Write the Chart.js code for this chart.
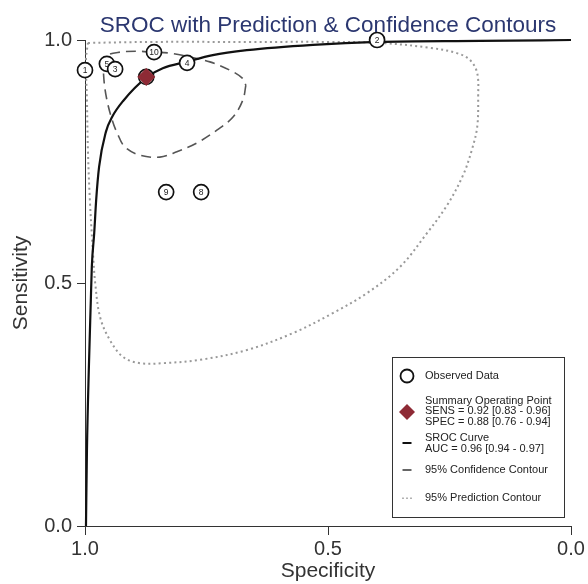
<!DOCTYPE html>
<html>
<head>
<meta charset="utf-8">
<script src="https://cdn.jsdelivr.net/npm/chart.js@4.4.1/dist/chart.umd.min.js"></script>
<style>
html,body{margin:0;padding:0;background:#fff;}
#wrap{width:588px;height:584px;}
</style>
</head>
<body>
<div id="wrap"><canvas id="c" width="588" height="584"></canvas></div>
<script>
// ---------- data ----------
const chartTitle = 'SROC with Prediction & Confidence Contours';
const xAxisTitle = 'Specificity';
const yAxisTitle = 'Sensitivity';
const tickValues = [0.0, 0.5, 1.0];

const studyIds  = ['1', '5', '3', '10', '4', '2', '9', '8', '7'];
const studySpec = [1.000, 0.955, 0.938, 0.858, 0.790, 0.399, 0.833, 0.761, 0.874];
const studySens = [0.938, 0.951, 0.940, 0.975, 0.953, 1.000, 0.687, 0.687, 0.924];

const summarySpec = [0.874];
const summarySens = [0.924];

const srocSpec = [0.998, 0.996, 0.992, 0.988, 0.986, 0.981, 0.977, 0.971, 0.957, 0.944, 0.922, 0.872, 0.840, 0.792, 0.737, 0.667, 0.531, 0.399, 0.187, 0.000];
const srocSens = [0.000, 0.156, 0.327, 0.465, 0.533, 0.603, 0.671, 0.739, 0.811, 0.842, 0.874, 0.924, 0.942, 0.955, 0.969, 0.979, 0.990, 0.996, 0.998, 1.000];

const confSpec = [0.669, 0.675, 0.695, 0.728, 0.770, 0.811, 0.846, 0.887, 0.918, 0.934, 0.944, 0.955, 0.961, 0.961, 0.953, 0.928, 0.893, 0.860, 0.825, 0.784, 0.743, 0.702, 0.677, 0.669];
const confSens = [0.907, 0.877, 0.842, 0.815, 0.788, 0.770, 0.759, 0.763, 0.780, 0.809, 0.835, 0.877, 0.918, 0.953, 0.969, 0.975, 0.977, 0.975, 0.973, 0.965, 0.955, 0.938, 0.922, 0.907];

const predSpec = [0.994, 0.866, 0.660, 0.496, 0.393, 0.290, 0.235, 0.208, 0.193, 0.191, 0.193, 0.204, 0.222, 0.255, 0.296, 0.352, 0.420, 0.490, 0.572, 0.667, 0.763, 0.840, 0.887, 0.922, 0.949, 0.969, 0.979, 0.984, 0.990, 0.994, 0.996, 0.998, 0.994];
const predSens = [0.994, 0.996, 0.996, 0.996, 0.994, 0.984, 0.973, 0.959, 0.932, 0.883, 0.821, 0.774, 0.722, 0.660, 0.603, 0.533, 0.479, 0.438, 0.397, 0.362, 0.342, 0.335, 0.335, 0.348, 0.383, 0.430, 0.500, 0.568, 0.671, 0.774, 0.877, 0.959, 0.994];

const legendObserved = 'Observed Data';
const legendSummary = ['Summary Operating Point', 'SENS = 0.92 [0.83 - 0.96]', 'SPEC = 0.88 [0.76 - 0.94]'];
const legendSroc = ['SROC Curve', 'AUC = 0.96 [0.94 - 0.97]'];
const legendConf = '95% Confidence Contour';
const legendPred = '95% Prediction Contour';

// ---------- helpers ----------
const zip = (xs, ys) => xs.map((x, i) => ({x: x, y: ys[i]}));
const FONT = '"Liberation Sans", Arial, sans-serif';

const titlePlugin = {
  id: 'mainTitle',
  afterDraw(chart) {
    const ctx = chart.ctx, ca = chart.chartArea;
    ctx.save();
    ctx.font = '22.5px ' + FONT;
    ctx.fillStyle = '#2b3770';
    ctx.textAlign = 'center';
    ctx.textBaseline = 'alphabetic';
    ctx.fillText(chartTitle, (ca.left + ca.right) / 2, 32);
    ctx.restore();
  }
};

const labelPlugin = {
  id: 'studyLabels',
  afterDatasetDraw(chart, args) {
    if (args.index !== 1) return;
    const ctx = chart.ctx;
    const meta = chart.getDatasetMeta(1);
    ctx.save();
    ctx.font = '8.5px ' + FONT;
    ctx.fillStyle = '#222';
    ctx.textAlign = 'center';
    ctx.textBaseline = 'middle';
    meta.data.forEach((pt, i) => {
      ctx.fillText(studyIds[i], pt.x, pt.y + 0.5);
    });
    ctx.restore();
  }
};

const legendPlugin = {
  id: 'customLegend',
  afterDraw(chart) {
    const ctx = chart.ctx;
    ctx.save();
    ctx.fillStyle = '#fff';
    ctx.fillRect(392, 357, 172, 160);
    ctx.strokeStyle = '#333';
    ctx.lineWidth = 1;
    ctx.strokeRect(392.5, 357.5, 172, 160);

    const ix = 407, tx = 425;
    ctx.beginPath();
    ctx.arc(ix, 376, 6.5, 0, Math.PI * 2);
    ctx.lineWidth = 1.8;
    ctx.strokeStyle = '#111';
    ctx.stroke();
    ctx.beginPath();
    ctx.moveTo(ix, 404); ctx.lineTo(ix + 8, 412); ctx.lineTo(ix, 420); ctx.lineTo(ix - 8, 412); ctx.closePath();
    ctx.fillStyle = '#8e2a35';
    ctx.fill();
    ctx.beginPath();
    ctx.moveTo(ix - 4.5, 443); ctx.lineTo(ix + 4.5, 443);
    ctx.lineWidth = 2; ctx.strokeStyle = '#111'; ctx.stroke();
    ctx.beginPath();
    ctx.moveTo(ix - 4.5, 470); ctx.lineTo(ix + 4.5, 470);
    ctx.lineWidth = 1.5; ctx.strokeStyle = '#333'; ctx.stroke();
    ctx.fillStyle = '#999';
    [ix - 4, ix, ix + 4].forEach(x => ctx.fillRect(x - 0.75, 497.5, 1.5, 1.5));

    ctx.font = '11px ' + FONT;
    ctx.fillStyle = '#222';
    ctx.textAlign = 'left';
    ctx.textBaseline = 'middle';
    ctx.fillText(legendObserved, tx, 376);
    legendSummary.forEach((t, i) => ctx.fillText(t, tx, 400.5 + i * 10.7));
    legendSroc.forEach((t, i) => ctx.fillText(t, tx, 438 + i * 10.7));
    ctx.fillText(legendConf, tx, 470);
    ctx.fillText(legendPred, tx, 498);
    ctx.restore();
  }
};

const ctx = document.getElementById('c').getContext('2d');
new Chart(ctx, {
  type: 'scatter',
  data: {
    datasets: [
      {
        label: 'Summary Operating Point',
        data: zip(summarySpec, summarySens),
        pointStyle: 'rectRot',
        pointRadius: 8.5,
        backgroundColor: '#8e2a35',
        borderColor: '#8e2a35',
        borderWidth: 1,
        showLine: false,
        order: 0,
        clip: false
      },
      {
        label: 'Observed Data',
        data: zip(studySpec, studySens),
        pointStyle: 'circle',
        pointRadius: 7.5,
        backgroundColor: '#ffffff',
        borderColor: '#111',
        borderWidth: 1.7,
        showLine: false,
        order: 1,
        clip: false
      },
      {
        label: 'SROC Curve',
        data: zip(srocSpec, srocSens),
        showLine: true,
        pointRadius: 0,
        borderColor: '#111',
        borderWidth: 2.2,
        cubicInterpolationMode: 'monotone',
        fill: false,
        order: 2,
        clip: false
      },
      {
        label: '95% Confidence Contour',
        data: zip(confSpec, confSens),
        showLine: true,
        pointRadius: 0,
        borderColor: '#555',
        borderWidth: 1.6,
        borderDash: [10, 6],
        tension: 0.35,
        fill: false,
        order: 3,
        clip: false
      },
      {
        label: '95% Prediction Contour',
        data: zip(predSpec, predSens),
        showLine: true,
        pointRadius: 0,
        borderColor: '#999',
        borderWidth: 2,
        borderDash: [2, 3.2],
        tension: 0.35,
        fill: false,
        order: 4,
        clip: false
      }
    ]
  },
  options: {
    responsive: false,
    animation: false,
    devicePixelRatio: 1,
    elements: { line: { capBezierPoints: false } },
    layout: { padding: { top: 40, right: 17, left: 0, bottom: 0 } },
    plugins: {
      legend: { display: false },
      tooltip: { enabled: false },
      title: { display: false }
    },
    scales: {
      x: {
        type: 'linear',
        position: 'bottom',
        min: 0, max: 1,
        reverse: true,
        afterBuildTicks: s => { s.ticks = tickValues.map(v => ({ value: v })); },
        ticks: {
          callback: v => Number(v).toFixed(1),
          font: { size: 20, family: FONT },
          color: '#333',
          padding: 2,
          maxRotation: 0,
          autoSkip: false
        },
        grid: { drawOnChartArea: false, drawTicks: true, tickLength: 9, color: '#333', lineWidth: 1 },
        border: { display: true, color: '#333', width: 1 },
        title: { display: true, text: xAxisTitle, font: { size: 21, family: FONT }, color: '#333', padding: { top: 0, bottom: 0 } },
        afterFit: s => { s.height = 58; s.paddingLeft = 0; s.paddingRight = 0; }
      },
      y: {
        type: 'linear',
        position: 'left',
        min: 0, max: 1,
        afterBuildTicks: s => { s.ticks = tickValues.map(v => ({ value: v })); },
        ticks: {
          callback: v => Number(v).toFixed(1),
          font: { size: 20, family: FONT },
          color: '#333',
          padding: 5,
          autoSkip: false
        },
        grid: { drawOnChartArea: false, drawTicks: true, tickLength: 8, color: '#333', lineWidth: 1 },
        border: { display: true, color: '#333', width: 1 },
        title: { display: true, text: yAxisTitle, font: { size: 21, family: FONT }, color: '#333', padding: { top: 9, bottom: 0 } },
        afterFit: s => { s.width = 85; s.paddingTop = 0; s.paddingBottom = 0; }
      }
    }
  },
  plugins: [titlePlugin, labelPlugin, legendPlugin]
});
</script>
</body>
</html>
